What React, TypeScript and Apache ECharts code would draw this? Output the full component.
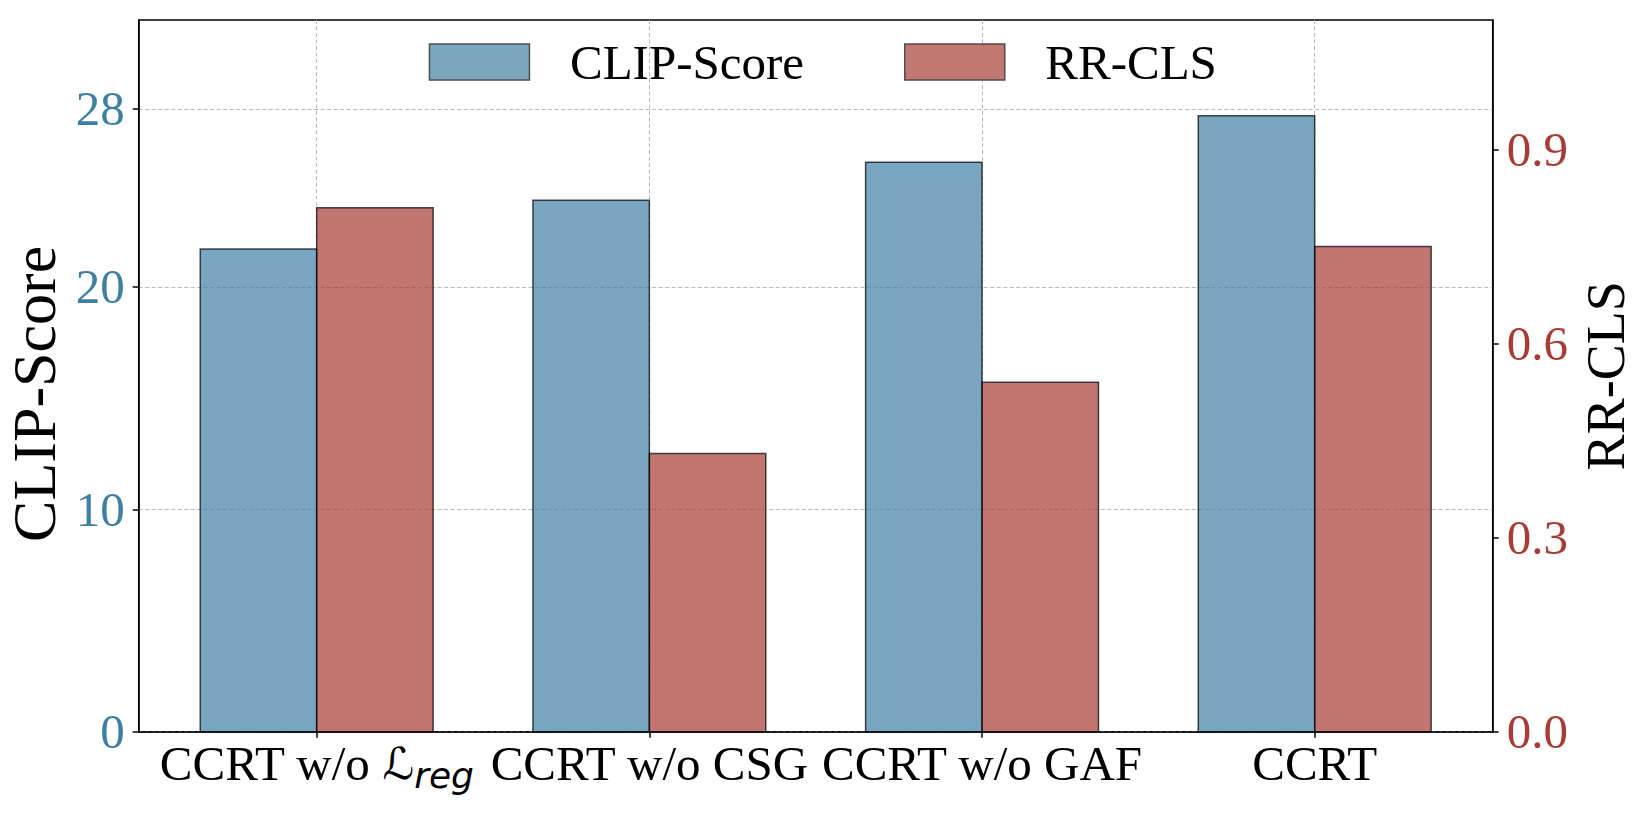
import React, { useEffect, useRef } from "react";
import * as echarts from "echarts";

const categories = ["CCRT w/o ℒreg", "CCRT w/o CSG", "CCRT w/o GAF", "CCRT"];
const clipScore = [21.7, 23.9, 25.6, 27.7];
const rrCls = [0.81, 0.43, 0.54, 0.75];
const leftTicks = [0, 10, 20, 28];
const rightTicks = [0, 0.3, 0.6, 0.9];
const categoryPositions = [0, 1, 2, 3];

const SERIF = "'Liberation Serif', 'Times New Roman', serif";
const BLUE = "#3e7fa4";
const RED = "#a63c34";
const BAR_W = 0.35;

function makeRender(startOffset: number, endOffset: number) {
  return (params: any, api: any) => {
    const x = api.value(0);
    const v = api.value(1);
    const p0 = api.coord([x + startOffset, v]);
    const p1 = api.coord([x + endOffset, 0]);
    return {
      type: "rect",
      shape: { x: p0[0], y: p0[1], width: p1[0] - p0[0], height: p1[1] - p0[1] },
      style: {
        fill: api.visual("color"),
        stroke: "#000",
        lineWidth: 1.5,
        opacity: 0.7,
      },
    };
  };
}

export default function App() {
  const ref = useRef<HTMLDivElement>(null);
  useEffect(() => {
    if (!ref.current) return;
    const chart = echarts.init(ref.current, null, { renderer: "svg" });
    const gridLine = { show: true, lineStyle: { color: "#b8b8b8", width: 1, type: [4, 2.5] as any } };
    chart.setOption({
      animation: false,
      backgroundColor: "#fff",
      grid: {
        left: 138.7,
        top: 20,
        right: 151.3,
        bottom: 90.3,
        outerBoundsMode: "none",
        containLabel: false,
        show: true,
        borderColor: "#000",
        borderWidth: 1.5,
        backgroundColor: "transparent",
      },
      legend: {
        left: 428.7,
        top: 37.5,
        padding: 0,
        itemWidth: 100,
        itemHeight: 36,
        itemGap: 100,
        icon: "rect",
        textStyle: { fontFamily: SERIF, fontSize: 49, color: "#000", padding: [0, 0, 0, 35.5] },
        data: [
          { name: "CLIP-Score", itemStyle: { color: "#7aa6bf", borderColor: "#4d4d4d", borderWidth: 1.5, opacity: 1 } },
          { name: "RR-CLS", itemStyle: { color: "#c17871", borderColor: "#4d4d4d", borderWidth: 1.5, opacity: 1 } },
        ],
      },
      xAxis: {
        type: "value",
        min: -0.535,
        max: 3.535,
        axisLine: { show: true, onZero: false, lineStyle: { color: "#000", width: 1.5 } },
        axisTick: { show: true, length: 6, lineStyle: { color: "#000", width: 1.5 }, customValues: categoryPositions },
        axisLabel: {
          customValues: categoryPositions,
          margin: 2,
          fontFamily: SERIF,
          fontSize: 49,
          color: "#000",
          lineHeight: 60,
          formatter: (v: number) => {
            const c = categories[Math.round(v)] ?? "";
            if (c.indexOf("ℒreg") >= 0) {
              return c.replace("ℒreg", "{L|ℒ}{sub|reg}");
            }
            return c;
          },
          rich: {
            L: { fontFamily: "'DejaVu Sans', sans-serif", fontSize: 44, color: "#000", lineHeight: 60 },
            sub: {
              fontFamily: "'DejaVu Sans', sans-serif",
              fontStyle: "italic",
              fontSize: 36,
              color: "#000",
              padding: [24, 0, 0, 0],
            },
          },
        },
        splitLine: gridLine,
      },
      yAxis: [
        {
          type: "value",
          min: 0,
          max: 32,
          position: "left",
          name: "CLIP-Score",
          nameLocation: "middle",
          nameRotate: 90,
          nameGap: 70,
          nameTextStyle: { fontFamily: SERIF, fontSize: 62, color: "#000", padding: [0, 36, 0, 0] },
          axisLine: { show: true, onZero: false, lineStyle: { color: "#000", width: 1.5 } },
          axisTick: { show: true, length: 6, lineStyle: { color: "#000", width: 1.5 }, customValues: leftTicks },
          axisLabel: { customValues: leftTicks, margin: 14, fontFamily: SERIF, fontSize: 49, color: BLUE },
          splitLine: gridLine,
        },
        {
          type: "value",
          min: 0,
          max: 1.1,
          position: "right",
          name: "RR-CLS",
          nameLocation: "middle",
          nameRotate: 90,
          nameGap: 77,
          nameTextStyle: { fontFamily: SERIF, fontSize: 54, color: "#000" },
          axisLine: { show: true, onZero: false, lineStyle: { color: "#000", width: 1.5 } },
          axisTick: { show: true, length: 6, lineStyle: { color: "#000", width: 1.5 }, customValues: rightTicks },
          axisLabel: {
            customValues: rightTicks,
            margin: 14,
            fontFamily: SERIF,
            fontSize: 49,
            color: RED,
            formatter: (v: number) => v.toFixed(1),
          },
          splitLine: { show: false },
        },
      ],
      series: [
        {
          name: "CLIP-Score",
          type: "custom",
          xAxisIndex: 0,
          yAxisIndex: 0,
          itemStyle: { color: BLUE, borderColor: "#000", borderWidth: 1.5 },
          renderItem: makeRender(-BAR_W, 0),
          encode: { x: 0, y: 1 },
          data: categoryPositions.map((p, i) => [p, clipScore[i]]),
        },
        {
          name: "RR-CLS",
          type: "custom",
          xAxisIndex: 0,
          yAxisIndex: 1,
          itemStyle: { color: RED, borderColor: "#000", borderWidth: 1.5 },
          renderItem: makeRender(0, BAR_W),
          encode: { x: 0, y: 1 },
          data: categoryPositions.map((p, i) => [p, rrCls[i]]),
        },
      ],
    });
    return () => chart.dispose();
  }, []);
  return (
    <div
      ref={ref}
      style={{ position: "absolute", left: 0, top: 0, width: "1644px", height: "822px", background: "#fff" }}
    />
  );
}
